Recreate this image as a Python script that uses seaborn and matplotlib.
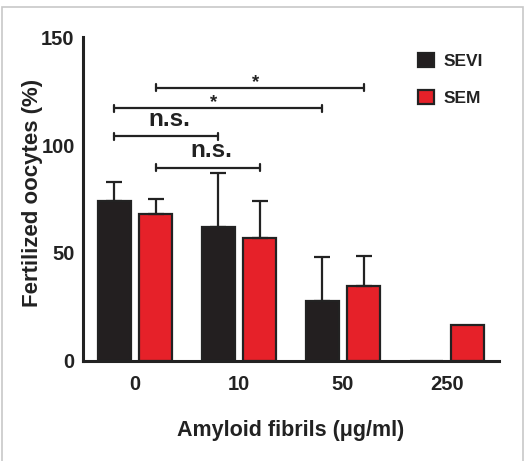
import matplotlib
matplotlib.use("Agg")
import matplotlib.pyplot as plt
import seaborn as sns
import pandas as pd
from matplotlib.patches import Rectangle

# ---- data ----
concentrations = ["0", "10", "50", "250"]
groups = ["SEVI", "SEM"]
sevi_values = [74, 62, 28, 0]
sem_values = [68, 57, 34.5, 16.5]
sevi_err = [9, 25, 20, 0]
sem_err = [7, 17, 14, 0]
y_ticks = [0, 50, 100, 150]

# significance brackets: (x_start, x_end, height, label)
brackets = [
    (0.2, 2.2, 126.5, "*"),
    (-0.2, 1.8, 117, "*"),
    (-0.2, 0.8, 104, "n.s."),
    (0.2, 1.2, 89.5, "n.s."),
]

sns.set_theme(style="white")
plt.rcParams["font.family"] = ["Liberation Sans", "DejaVu Sans"]

INK = "#222222"
colors = ["#231f20", "#e62129"]

df = pd.DataFrame({
    "conc": concentrations * 2,
    "value": sevi_values + sem_values,
    "group": [groups[0]] * 4 + [groups[1]] * 4,
})

fig = plt.figure(figsize=(5.25, 4.61), dpi=100)
ax = fig.add_axes([83 / 525, 1 - 361 / 461, (499 - 83) / 525, (361 - 37) / 461])

sns.barplot(data=df, x="conc", y="value", hue="group", order=concentrations,
            hue_order=groups, palette=colors, saturation=1, width=0.8, gap=0.2,
            edgecolor=INK, linewidth=1.6, ax=ax, errorbar=None, legend=True)

# upper error bars
for cont, errs in zip(ax.containers, [sevi_err, sem_err]):
    for bar, e in zip(cont, errs):
        if e <= 0:
            continue
        xc = bar.get_x() + bar.get_width() / 2
        h = bar.get_height()
        ax.errorbar([xc], [h], yerr=[[0], [e]], fmt="none", ecolor=INK,
                    elinewidth=1.6, capsize=6, capthick=1.6, zorder=1)

# significance brackets
for x0, x1, h, lab in brackets:
    ax.plot([x0, x1], [h, h], color=INK, lw=1.6, clip_on=False)
    for xe in (x0, x1):
        ax.plot([xe, xe], [h - 1.6, h + 1.6], color=INK, lw=1.6, clip_on=False)
    xm = (x0 + x1) / 2
    if lab == "*":
        ax.text(xm - 0.04, h - 1.5, lab, ha="center", va="bottom", fontsize=13.5,
                fontweight="bold", color=INK)
    else:
        ax.text(xm + 0.03, h + 2.5, lab, ha="center", va="bottom", fontsize=17.5,
                fontweight="bold", color=INK)

ax.set_xlim(-0.5, 3.5)
ax.set_ylim(0, 150)
ax.set_yticks(y_ticks)
ax.set_yticklabels([str(t) for t in y_ticks])

for s in ["top", "right"]:
    ax.spines[s].set_visible(False)
for s in ["left", "bottom"]:
    ax.spines[s].set_linewidth(2.2)
    ax.spines[s].set_color(INK)

ax.tick_params(axis="both", which="major", length=4, width=1.8, color=INK,
               labelsize=14.5, labelcolor=INK, direction="out")
ax.tick_params(axis="y", pad=2)
ax.tick_params(axis="x", pad=6)
for lbl in ax.get_xticklabels() + ax.get_yticklabels():
    lbl.set_fontweight("bold")

ax.set_xlabel("Amyloid fibrils (\u03bcg/ml)", fontsize=15.5, fontweight="bold",
              color=INK, labelpad=19)
ax.set_ylabel("Fertilized oocytes (%)", fontsize=16, fontweight="bold",
              color=INK, labelpad=-1.5)
ax.yaxis.label.set_y(0.518)

handles, labels = ax.get_legend_handles_labels()
ax.legend(handles, labels, loc="upper left",
          bbox_to_anchor=(418 / 525, 1 - 53 / 461), bbox_transform=fig.transFigure,
          frameon=False, borderpad=0, borderaxespad=0, handlelength=0.9,
          handleheight=0.9, handletextpad=0.6, labelspacing=1.2,
          prop={"size": 12.5, "weight": "bold"})
for t in ax.get_legend().get_texts():
    t.set_color(INK)

# thin grey frame around the figure
fig.add_artist(Rectangle((1.5 / 525, -0.05), (522.5 - 1.5) / 525, 1.05 - 7.5 / 461,
                         transform=fig.transFigure, fill=False,
                         edgecolor="#c8c8c8", lw=1.2))

fig.savefig("out.png", dpi=100)
